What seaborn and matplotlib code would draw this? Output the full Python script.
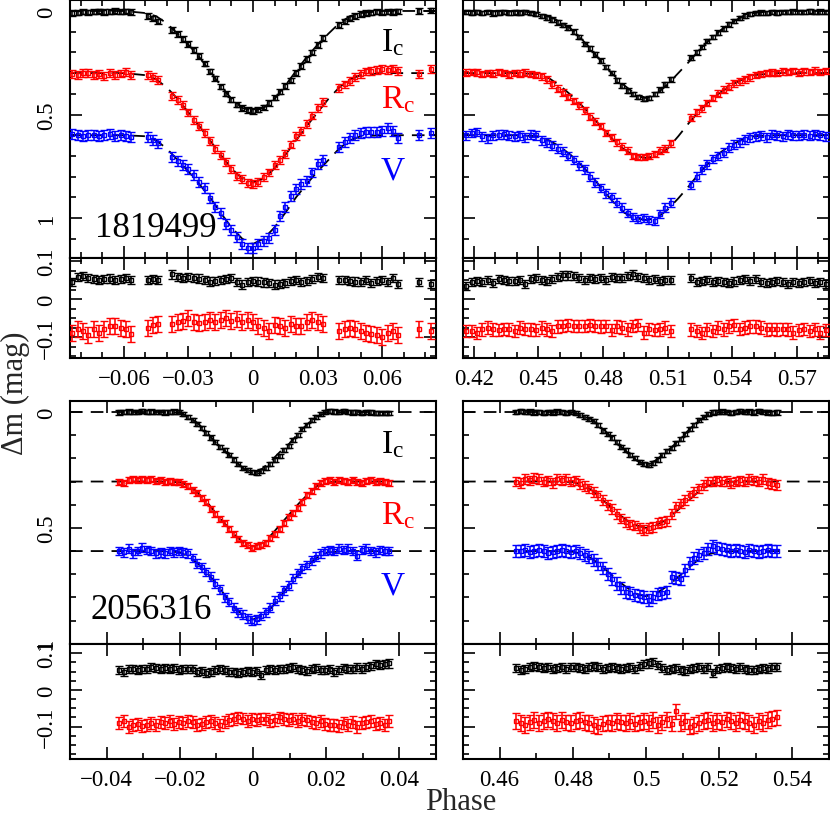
import numpy as np
import pandas as pd
import matplotlib
matplotlib.use("Agg")
import matplotlib.pyplot as plt
import seaborn as sns
from matplotlib.ticker import MultipleLocator, FixedLocator, FuncFormatter

sns.set_style("ticks")
plt.rcParams['font.family'] = ['Liberation Serif', 'DejaVu Serif']
plt.rcParams['mathtext.fontset'] = 'custom'
plt.rcParams['mathtext.rm'] = 'Liberation Serif'
plt.rcParams['mathtext.it'] = 'Liberation Serif:italic'
plt.rcParams['axes.unicode_minus'] = True

# ---------------- star 1819499, primary (top-left) ----------------
tl_phase = [-0.084, -0.0815, -0.079, -0.0765, -0.074, -0.0715, -0.069, -0.0665, -0.064, -0.0615, -0.059, -0.0565,
            -0.049, -0.0465, -0.044,
            -0.0375, -0.035, -0.0325, -0.030, -0.0275, -0.025, -0.0225, -0.020, -0.0175, -0.015, -0.0125, -0.010,
            -0.0075, -0.005, -0.0025, 0.000, 0.0025, 0.005, 0.0075, 0.010, 0.0125, 0.015, 0.0175, 0.020, 0.0225,
            0.025, 0.0275, 0.030, 0.0325,
            0.040, 0.0425, 0.045, 0.0475, 0.050, 0.0525, 0.055, 0.0575, 0.060, 0.0625, 0.065, 0.0675,
            0.077, 0.0825]
tl_I = [0.010, 0.008, 0.003, 0.006, 0.004, 0.002, 0.005, 0.003, 0.000, 0.004, 0.002, 0.005,
        0.025, 0.035, 0.050,
        0.092, 0.112, 0.135, 0.160, 0.188, 0.217, 0.255, 0.292, 0.325, 0.365, 0.400, 0.428, 0.452, 0.468, 0.478,
        0.483, 0.476, 0.465, 0.445, 0.418, 0.390, 0.362, 0.335, 0.300, 0.265, 0.232, 0.200, 0.165, 0.130,
        0.068, 0.050, 0.035, 0.025, 0.015, 0.010, 0.008, 0.004, 0.006, 0.003, 0.005, 0.002,
        0.000, -0.003]
tl_R = [0.305, 0.310, 0.300, 0.298, 0.310, 0.305, 0.312, 0.300, 0.308, 0.302, 0.296, 0.310,
        0.310, 0.320, 0.335,
        0.410, 0.430, 0.455, 0.490, 0.525, 0.555, 0.590, 0.630, 0.665, 0.695, 0.730, 0.765, 0.795, 0.810, 0.830,
        0.835, 0.825, 0.800, 0.780, 0.745, 0.720, 0.690, 0.645, 0.605, 0.580, 0.545, 0.505, 0.470, 0.440,
        0.370, 0.355, 0.340, 0.320, 0.305, 0.292, 0.288, 0.283, 0.280, 0.285, 0.278, 0.290,
        0.305, 0.280]
tl_V = [0.595, 0.600, 0.605, 0.600, 0.598, 0.603, 0.600, 0.596, 0.602, 0.598, 0.605, 0.610,
        0.610, 0.625, 0.640,
        0.705, 0.725, 0.745, 0.765, 0.790, 0.825, 0.855, 0.905, 0.945, 0.975, 1.030, 1.060, 1.090, 1.125, 1.145,
        1.145, 1.125, 1.110, 1.095, 1.060, 0.990, 0.945, 0.895, 0.860, 0.835, 0.820, 0.780, 0.740, 0.720,
        0.655, 0.635, 0.615, 0.600, 0.590, 0.585, 0.585, 0.585, 0.580, 0.565, 0.580, 0.615,
        0.600, 0.590]
tl_resI = [0.045, 0.058, 0.060, 0.055, 0.052, 0.050, 0.052, 0.054, 0.050, 0.052, 0.055, 0.050,
           0.050, 0.052, 0.050,
           0.065, 0.058, 0.056, 0.058, 0.055, 0.054, 0.050, 0.046, 0.048, 0.050, 0.052, 0.055, 0.045, 0.038, 0.045,
           0.048, 0.046, 0.044, 0.042, 0.038, 0.040, 0.043, 0.048, 0.050, 0.045, 0.048, 0.052, 0.058, 0.055,
           0.050, 0.050, 0.048, 0.046, 0.045, 0.050, 0.042, 0.048, 0.050, 0.045, 0.055, 0.040,
           0.045, 0.040]
tl_resR = [-0.090, -0.078, -0.085, -0.095, -0.080, -0.088, -0.078, -0.072, -0.070, -0.075, -0.080, -0.092,
           -0.075, -0.068, -0.065,
           -0.065, -0.060, -0.058, -0.050, -0.060, -0.062, -0.060, -0.056, -0.060, -0.055, -0.050, -0.058, -0.052,
           -0.060, -0.055, -0.060, -0.070, -0.075, -0.085, -0.068, -0.072, -0.075, -0.065, -0.070, -0.070, -0.060,
           -0.055, -0.060, -0.065,
           -0.085, -0.078, -0.075, -0.080, -0.085, -0.088, -0.092, -0.095, -0.100, -0.090, -0.085, -0.095,
           -0.080, -0.085]
tl_mphase = [-0.085, -0.06, -0.05, -0.045, -0.04, -0.035, -0.03, -0.025, -0.02, -0.015, -0.01, -0.005, 0.0,
             0.005, 0.01, 0.015, 0.02, 0.025, 0.03, 0.035, 0.04, 0.045, 0.05, 0.06, 0.085]
tl_mI = [0.0, 0.0, 0.01, 0.025, 0.06, 0.11, 0.163, 0.222, 0.29, 0.36, 0.425, 0.468, 0.483, 0.468, 0.425, 0.36,
         0.29, 0.222, 0.163, 0.11, 0.06, 0.025, 0.01, 0.0, 0.0]
tl_mR = [0.30, 0.30, 0.31, 0.33, 0.37, 0.425, 0.49, 0.555, 0.625, 0.695, 0.76, 0.81, 0.828, 0.81, 0.76, 0.695,
         0.625, 0.555, 0.49, 0.425, 0.37, 0.33, 0.31, 0.30, 0.30]
tl_mV = [0.60, 0.60, 0.605, 0.625, 0.665, 0.72, 0.775, 0.835, 0.90, 0.975, 1.045, 1.10, 1.125, 1.10, 1.045,
         0.975, 0.90, 0.835, 0.775, 0.72, 0.665, 0.625, 0.605, 0.60, 0.60]

# ---------------- star 1819499, secondary (top-right) ----------------
tr_phase = [0.4165, 0.419, 0.4215, 0.424, 0.4265, 0.429, 0.4315, 0.434, 0.4365, 0.439, 0.4415, 0.444, 0.4465,
            0.449, 0.4515, 0.454, 0.4565, 0.459, 0.4615, 0.464, 0.4665, 0.469, 0.4715, 0.474, 0.4765, 0.479,
            0.4815, 0.484, 0.4865, 0.489, 0.4915, 0.494, 0.4965, 0.499, 0.5015, 0.504, 0.5065, 0.509, 0.5115,
            0.521, 0.5235, 0.526, 0.5285, 0.531, 0.5335, 0.536, 0.5385, 0.541, 0.5435, 0.546, 0.5485, 0.551,
            0.5535, 0.556, 0.5585, 0.561, 0.5635, 0.566, 0.5685, 0.571, 0.5735, 0.576, 0.5785, 0.581, 0.5835]
tr_I = [0.005, 0.008, 0.004, 0.010, 0.006, 0.012, 0.008, 0.006, 0.010, 0.007, 0.008, 0.005, 0.010, 0.015,
        0.024, 0.032, 0.042, 0.055, 0.068, 0.080, 0.100, 0.125, 0.160, 0.180, 0.210, 0.240, 0.270, 0.300,
        0.335, 0.360, 0.385, 0.400, 0.415, 0.425, 0.420, 0.400, 0.380, 0.355, 0.330,
        0.225, 0.200, 0.175, 0.145, 0.125, 0.105, 0.085, 0.065, 0.048, 0.035, 0.022, 0.015, 0.010, 0.008,
        0.010, 0.005, 0.008, 0.004, 0.006, 0.003, 0.005, 0.004, 0.002, 0.005, 0.003, 0.004]
tr_R = [0.298, 0.295, 0.297, 0.305, 0.300, 0.302, 0.295, 0.300, 0.308, 0.300, 0.302, 0.298, 0.305, 0.310,
        0.315, 0.330, 0.355, 0.375, 0.395, 0.415, 0.435, 0.455, 0.480, 0.510, 0.535, 0.555, 0.590, 0.610,
        0.635, 0.655, 0.675, 0.700, 0.705, 0.705, 0.700, 0.690, 0.675, 0.665, 0.640,
        0.515, 0.490, 0.470, 0.445, 0.420, 0.400, 0.380, 0.365, 0.350, 0.340, 0.330, 0.320, 0.310, 0.305,
        0.300, 0.298, 0.300, 0.292, 0.295, 0.290, 0.298, 0.292, 0.295, 0.288, 0.295, 0.290]
tr_V = [0.600, 0.590, 0.585, 0.605, 0.615, 0.600, 0.598, 0.595, 0.602, 0.605, 0.600, 0.610, 0.598, 0.600,
        0.625, 0.635, 0.650, 0.665, 0.680, 0.700, 0.720, 0.745, 0.765, 0.800, 0.830, 0.855, 0.880, 0.900,
        0.925, 0.950, 0.975, 0.995, 1.005, 1.000, 1.010, 1.015, 0.980, 0.950, 0.925,
        0.840, 0.800, 0.765, 0.740, 0.715, 0.700, 0.685, 0.660, 0.645, 0.635, 0.620, 0.610, 0.605, 0.600,
        0.610, 0.598, 0.600, 0.605, 0.595, 0.600, 0.600, 0.598, 0.602, 0.595, 0.600, 0.605]
tr_resI = [0.035, 0.045, 0.048, 0.045, 0.050, 0.042, 0.052, 0.050, 0.048, 0.048, 0.050, 0.040, 0.052, 0.055,
           0.050, 0.048, 0.052, 0.058, 0.062, 0.062, 0.060, 0.055, 0.050, 0.055, 0.052, 0.055, 0.050, 0.058,
           0.055, 0.055, 0.060, 0.065, 0.058, 0.055, 0.050, 0.052, 0.048, 0.050, 0.050,
           0.055, 0.045, 0.048, 0.050, 0.045, 0.048, 0.045, 0.042, 0.046, 0.050, 0.052, 0.048, 0.052, 0.045,
           0.042, 0.045, 0.048, 0.045, 0.040, 0.045, 0.042, 0.045, 0.048, 0.042, 0.045, 0.040]
tr_resR = [-0.085, -0.085, -0.090, -0.080, -0.075, -0.080, -0.082, -0.078, -0.080, -0.085, -0.075, -0.078,
           -0.080, -0.082, -0.075, -0.080, -0.085, -0.072, -0.070, -0.068, -0.070, -0.070, -0.070, -0.068,
           -0.070, -0.072, -0.070, -0.082, -0.072, -0.075, -0.080, -0.070, -0.068, -0.088, -0.078, -0.082,
           -0.080, -0.075, -0.085,
           -0.080, -0.085, -0.090, -0.080, -0.085, -0.075, -0.080, -0.072, -0.068, -0.078, -0.075, -0.072,
           -0.072, -0.075, -0.080, -0.078, -0.080, -0.078, -0.080, -0.088, -0.082, -0.078, -0.085, -0.080,
           -0.088, -0.082]
tr_mphase = [0.415, 0.44, 0.45, 0.455, 0.46, 0.465, 0.47, 0.475, 0.48, 0.485, 0.49, 0.495, 0.5, 0.505, 0.51,
             0.515, 0.52, 0.525, 0.53, 0.535, 0.54, 0.545, 0.55, 0.56, 0.585]
tr_mI = [0.0, 0.0, 0.01, 0.025, 0.05, 0.085, 0.135, 0.19, 0.255, 0.31, 0.36, 0.40, 0.42, 0.40, 0.355, 0.30,
         0.245, 0.185, 0.135, 0.09, 0.055, 0.025, 0.01, 0.0, 0.0]
tr_mR = [0.30, 0.30, 0.305, 0.325, 0.36, 0.405, 0.455, 0.51, 0.57, 0.625, 0.67, 0.70, 0.71, 0.70, 0.665, 0.605,
         0.54, 0.48, 0.43, 0.39, 0.355, 0.33, 0.31, 0.30, 0.30]
tr_mV = [0.60, 0.60, 0.605, 0.625, 0.655, 0.695, 0.745, 0.80, 0.865, 0.925, 0.975, 1.0, 1.01, 1.0, 0.96, 0.905,
         0.845, 0.78, 0.725, 0.68, 0.645, 0.62, 0.605, 0.60, 0.60]

# ---------------- star 2056316, primary (bottom-left) ----------------
bl_phase = [-0.0365, -0.03525, -0.034, -0.03275, -0.0315, -0.03025, -0.029, -0.02775, -0.0265, -0.02525,
            -0.024, -0.02275, -0.0215, -0.02025, -0.019, -0.01775, -0.0165, -0.01525, -0.014, -0.01275,
            -0.0115, -0.01025, -0.009, -0.00775, -0.0065, -0.00525, -0.004, -0.00275, -0.0015, -0.00025,
            0.001, 0.00225, 0.0035, 0.00475, 0.006, 0.00725, 0.0085, 0.00975, 0.011, 0.01225,
            0.0135, 0.01475, 0.016, 0.01725, 0.0185, 0.01975, 0.021, 0.02225, 0.0235, 0.02475,
            0.026, 0.02725, 0.0285, 0.02975, 0.031, 0.03225, 0.0335, 0.03475, 0.036, 0.03725]
bl_I = [0.002, 0.000, -0.002, 0.001, 0.000, -0.003, 0.000, -0.002, 0.001, 0.000,
        0.002, 0.000, -0.002, 0.000, 0.008, 0.020, 0.035, 0.050, 0.070, 0.090,
        0.110, 0.130, 0.150, 0.165, 0.185, 0.205, 0.225, 0.240, 0.250, 0.260,
        0.262, 0.255, 0.240, 0.225, 0.205, 0.190, 0.165, 0.145, 0.120, 0.100,
        0.075, 0.055, 0.035, 0.020, 0.008, 0.000, -0.003, -0.002, 0.000, -0.003,
        0.000, 0.002, 0.000, 0.003, 0.000, 0.002, 0.004, 0.003, 0.005, 0.006]
bl_R = [0.300, 0.305, 0.295, 0.290, 0.295, 0.288, 0.295, 0.290, 0.298, 0.295,
        0.300, 0.298, 0.300, 0.302, 0.310, 0.320, 0.335, 0.350, 0.370, 0.390,
        0.420, 0.440, 0.460, 0.480, 0.505, 0.525, 0.550, 0.565, 0.575, 0.585,
        0.580, 0.575, 0.565, 0.545, 0.525, 0.505, 0.480, 0.455, 0.435, 0.415,
        0.390, 0.360, 0.340, 0.320, 0.305, 0.298, 0.295, 0.300, 0.295, 0.298,
        0.300, 0.295, 0.300, 0.305, 0.298, 0.295, 0.300, 0.298, 0.300, 0.305]
bl_V = [0.600, 0.605, 0.590, 0.610, 0.600, 0.585, 0.595, 0.600, 0.610, 0.605,
        0.610, 0.600, 0.605, 0.600, 0.605, 0.610, 0.630, 0.655, 0.670, 0.690,
        0.710, 0.740, 0.765, 0.800, 0.820, 0.845, 0.865, 0.875, 0.890, 0.900,
        0.895, 0.880, 0.865, 0.845, 0.815, 0.795, 0.770, 0.750, 0.720, 0.695,
        0.675, 0.660, 0.640, 0.625, 0.610, 0.600, 0.595, 0.600, 0.590, 0.595,
        0.590, 0.600, 0.620, 0.595, 0.590, 0.600, 0.605, 0.595, 0.600, 0.600]
bl_resI = [0.055, 0.050, 0.058, 0.056, 0.053, 0.056, 0.058, 0.062, 0.060, 0.058,
           0.060, 0.057, 0.060, 0.055, 0.058, 0.056, 0.057, 0.050, 0.052, 0.045,
           0.048, 0.055, 0.056, 0.054, 0.050, 0.050, 0.045, 0.048, 0.052, 0.050,
           0.052, 0.040, 0.055, 0.058, 0.055, 0.057, 0.058, 0.060, 0.062, 0.058,
           0.055, 0.052, 0.058, 0.060, 0.055, 0.054, 0.056, 0.048, 0.055, 0.060,
           0.056, 0.058, 0.062, 0.058, 0.063, 0.065, 0.070, 0.068, 0.070, 0.072]
bl_resR = [-0.090, -0.085, -0.100, -0.095, -0.092, -0.098, -0.095, -0.090, -0.095, -0.088,
           -0.090, -0.085, -0.092, -0.088, -0.090, -0.085, -0.088, -0.095, -0.092, -0.088,
           -0.085, -0.090, -0.095, -0.088, -0.082, -0.080, -0.075, -0.078, -0.085, -0.080,
           -0.082, -0.078, -0.080, -0.085, -0.082, -0.075, -0.080, -0.082, -0.078, -0.085,
           -0.080, -0.083, -0.088, -0.090, -0.085, -0.092, -0.095, -0.095, -0.098, -0.090,
           -0.095, -0.088, -0.100, -0.090, -0.088, -0.085, -0.092, -0.090, -0.095, -0.085]
bl_mphase = [-0.05, -0.025, -0.02, -0.0175, -0.015, -0.0125, -0.01, -0.0075, -0.005, -0.0025, 0.0, 0.0025,
             0.005, 0.0075, 0.01, 0.0125, 0.015, 0.0175, 0.02, 0.025, 0.05]
bl_mI = [0.0, 0.0, 0.003, 0.02, 0.05, 0.09, 0.135, 0.17, 0.21, 0.245, 0.26, 0.245, 0.21, 0.17, 0.135, 0.09,
         0.05, 0.02, 0.003, 0.0, 0.0]
bl_mR = [0.30, 0.30, 0.303, 0.318, 0.35, 0.39, 0.44, 0.485, 0.53, 0.565, 0.58, 0.565, 0.53, 0.485, 0.44, 0.395,
         0.355, 0.32, 0.303, 0.30, 0.30]
bl_mV = [0.60, 0.60, 0.605, 0.625, 0.655, 0.695, 0.74, 0.795, 0.845, 0.88, 0.895, 0.88, 0.845, 0.795, 0.745,
         0.70, 0.66, 0.628, 0.607, 0.60, 0.60]

# ---------------- star 2056316, secondary (bottom-right) ----------------
br_phase = [0.4645, 0.46575, 0.467, 0.46825, 0.4695, 0.47075, 0.472, 0.47325, 0.4745, 0.47575,
            0.477, 0.47825, 0.4795, 0.48075, 0.482, 0.48325, 0.4845, 0.48575, 0.487, 0.48825,
            0.4895, 0.49075, 0.492, 0.49325, 0.4945, 0.49575, 0.497, 0.49825, 0.4995, 0.50075,
            0.502, 0.50325, 0.5045, 0.50575, 0.507, 0.50825, 0.5095, 0.51075, 0.512, 0.51325,
            0.5145, 0.51575, 0.517, 0.51825, 0.5195, 0.52075, 0.522, 0.52325, 0.5245, 0.52575,
            0.527, 0.52825, 0.5295, 0.53075, 0.532, 0.53325, 0.5345, 0.53575]
br_I = [0.000, -0.003, 0.000, -0.002, 0.002, 0.000, 0.003, 0.000, 0.002, -0.002,
        0.000, 0.003, 0.000, 0.005, 0.012, 0.020, 0.030, 0.040, 0.055, 0.080,
        0.095, 0.110, 0.130, 0.150, 0.165, 0.185, 0.200, 0.215, 0.225, 0.230,
        0.220, 0.205, 0.185, 0.170, 0.155, 0.135, 0.115, 0.095, 0.075, 0.055,
        0.035, 0.020, 0.008, 0.002, 0.000, -0.002, 0.000, 0.003, 0.000, -0.003,
        0.000, -0.002, 0.002, -0.003, 0.000, 0.002, 0.003, 0.002]
br_R = [0.300, 0.305, 0.290, 0.295, 0.285, 0.290, 0.300, 0.295, 0.305, 0.290,
        0.295, 0.290, 0.300, 0.295, 0.310, 0.320, 0.330, 0.345, 0.360, 0.380,
        0.400, 0.420, 0.440, 0.460, 0.475, 0.485, 0.490, 0.500, 0.510, 0.500,
        0.495, 0.480, 0.475, 0.470, 0.440, 0.410, 0.395, 0.380, 0.360, 0.345,
        0.330, 0.315, 0.300, 0.300, 0.295, 0.300, 0.298, 0.305, 0.300, 0.295,
        0.300, 0.290, 0.295, 0.300, 0.290, 0.305, 0.310, 0.315]
br_V = [0.600, 0.600, 0.595, 0.605, 0.600, 0.595, 0.600, 0.610, 0.605, 0.600,
        0.595, 0.600, 0.605, 0.600, 0.610, 0.615, 0.625, 0.640, 0.655, 0.675,
        0.700, 0.720, 0.740, 0.760, 0.775, 0.780, 0.790, 0.795, 0.800, 0.810,
        0.800, 0.785, 0.780, 0.775, 0.710, 0.715, 0.720, 0.680, 0.650, 0.630,
        0.615, 0.610, 0.590, 0.580, 0.585, 0.590, 0.595, 0.600, 0.595, 0.600,
        0.605, 0.595, 0.600, 0.605, 0.600, 0.595, 0.600, 0.600]
br_resI = [0.060, 0.055, 0.058, 0.062, 0.065, 0.063, 0.060, 0.062, 0.058, 0.060,
           0.062, 0.058, 0.063, 0.062, 0.060, 0.058, 0.062, 0.065, 0.063, 0.058,
           0.060, 0.062, 0.060, 0.058, 0.060, 0.062, 0.058, 0.065, 0.070, 0.072,
           0.075, 0.068, 0.060, 0.055, 0.058, 0.060, 0.055, 0.052, 0.058, 0.060,
           0.062, 0.058, 0.062, 0.045, 0.058, 0.060, 0.062, 0.060, 0.058, 0.062,
           0.058, 0.055, 0.055, 0.058, 0.060, 0.058, 0.062, 0.062]
br_resR = [-0.085, -0.090, -0.095, -0.088, -0.082, -0.090, -0.085, -0.080, -0.085, -0.090,
           -0.082, -0.088, -0.090, -0.085, -0.082, -0.088, -0.090, -0.095, -0.100, -0.092,
           -0.088, -0.090, -0.085, -0.088, -0.090, -0.085, -0.092, -0.088, -0.085, -0.090,
           -0.082, -0.095, -0.088, -0.080, -0.092, -0.058, -0.090, -0.085, -0.100, -0.095,
           -0.090, -0.085, -0.082, -0.090, -0.085, -0.088, -0.080, -0.085, -0.090, -0.082,
           -0.085, -0.090, -0.095, -0.085, -0.090, -0.082, -0.078, -0.075]
br_mphase = [0.45, 0.475, 0.48, 0.4825, 0.485, 0.4875, 0.49, 0.4925, 0.495, 0.4975, 0.5, 0.5025, 0.505,
             0.5075, 0.51, 0.5125, 0.515, 0.5175, 0.52, 0.525, 0.55]
br_mI = [0.0, 0.0, 0.003, 0.012, 0.03, 0.06, 0.10, 0.14, 0.175, 0.21, 0.228, 0.21, 0.18, 0.145, 0.105, 0.065,
         0.032, 0.01, 0.002, 0.0, 0.0]
br_mR = [0.30, 0.30, 0.302, 0.315, 0.335, 0.37, 0.405, 0.44, 0.47, 0.49, 0.50, 0.49, 0.47, 0.44, 0.405, 0.37,
         0.335, 0.315, 0.302, 0.30, 0.30]
br_mV = [0.60, 0.60, 0.603, 0.612, 0.63, 0.66, 0.695, 0.73, 0.76, 0.785, 0.795, 0.785, 0.76, 0.73, 0.695, 0.66,
         0.63, 0.612, 0.603, 0.60, 0.60]

# typical photometric errors (mag) for each series: I, R, V, resid I, resid R
tl_err = [0.013, 0.019, 0.024, 0.011, 0.021]
tr_err = [0.011, 0.016, 0.021, 0.011, 0.016]
bl_err = [0.009, 0.013, 0.019, 0.011, 0.016]
br_err = [0.009, 0.021, 0.026, 0.011, 0.021]

band_labels = [r"I$_\mathrm{c}$", r"R$_\mathrm{c}$", "V"]
band_colors = ["black", "#ff0000", "#0000ff"]
star_ids = ["1819499", "2056316"]

# ---------------- figure & layout ----------------
W_PX, H_PX = 830, 820
fig = plt.figure(figsize=(W_PX / 100, H_PX / 100), dpi=100)


def fx(px):
    return px / W_PX


def fy(py):
    return 1 - py / H_PX


col_x = [70, 463]
col_w = 366
rows = [  # (main top, main bottom, resid bottom)
    (1, 259, 359),
    (402, 645, 760),
]


def fmt(v, pos=None):
    v = round(v, 4)
    if abs(v) < 1e-9:
        return "0"
    return f"{v:g}".replace("-", "\u2212")


def style(ax, xmaj, xmin, ymaj, ymin, labelleft, labelbottom):
    ax.xaxis.set_major_locator(MultipleLocator(xmaj))
    ax.xaxis.set_minor_locator(MultipleLocator(xmin))
    ax.yaxis.set_major_locator(FixedLocator(ymaj))
    ax.yaxis.set_minor_locator(MultipleLocator(ymin))
    ax.xaxis.set_major_formatter(FuncFormatter(fmt))
    ax.yaxis.set_major_formatter(FuncFormatter(fmt))
    ax.tick_params(which="both", direction="in", top=True, right=True, bottom=True, left=True,
                   width=1.2, color="black", labelsize=16.5, labelcolor="black")
    ax.tick_params(which="major", length=8.5)
    ax.tick_params(which="minor", length=4.5)
    ax.tick_params(axis="y", pad=9.5, labelleft=labelleft)
    ax.tick_params(axis="x", pad=7, labelbottom=labelbottom)
    for sp in ax.spines.values():
        sp.set_linewidth(1.5)
        sp.set_color("black")
        sp.set_visible(True)
    ax.set_facecolor("white")
    ax.set_xlabel("")
    ax.set_ylabel("")


def model_line(ax, ph, mag):
    df = pd.DataFrame({"phase": ph, "mag": mag})
    sns.lineplot(data=df, x="phase", y="mag", ax=ax, color="black", linewidth=1.3,
                 estimator=None, sort=False, zorder=1)
    ax.lines[-1].set_dashes([7, 4.5])


def points(ax, ph, mag, err, color):
    ax.errorbar(ph, mag, yerr=err, fmt="s", ms=3.3, mfc="none", mec=color, mew=1.0,
                ecolor=color, elinewidth=1.15, capsize=2.6, capthick=1.15, zorder=3)


panels = [
    # (row, col, phase, I, R, V, resI, resR, mphase, mI, mR, mV, err, xlim, xmaj, main ylim, resid ylim)
    (0, 0, tl_phase, tl_I, tl_R, tl_V, tl_resI, tl_resR, tl_mphase, tl_mI, tl_mR, tl_mV, tl_err,
     (-0.085, 0.085), 0.03, (1.193, -0.053), (-0.155, 0.108)),
    (0, 1, tr_phase, tr_I, tr_R, tr_V, tr_resI, tr_resR, tr_mphase, tr_mI, tr_mR, tr_mV, tr_err,
     (0.415, 0.585), 0.03, (1.193, -0.053), (-0.155, 0.108)),
    (1, 0, bl_phase, bl_I, bl_R, bl_V, bl_resI, bl_resR, bl_mphase, bl_mI, bl_mR, bl_mV, bl_err,
     (-0.05, 0.05), 0.02, (1.001, -0.0475), (-0.188, 0.125)),
    (1, 1, br_phase, br_I, br_R, br_V, br_resI, br_resR, br_mphase, br_mI, br_mR, br_mV, br_err,
     (0.45, 0.55), 0.02, (1.001, -0.0475), (-0.188, 0.125)),
]

for (r, c, ph, I, R, V, rI, rR, mph, mI, mR, mV, err, xlim, xmaj, ylim, rylim) in panels:
    mt, mb, rb = rows[r]
    x0 = fx(col_x[c])
    w = col_w / W_PX
    ax = fig.add_axes([x0, fy(mb), w, (mb - mt) / H_PX])
    axr = fig.add_axes([x0, fy(rb), w, (rb - mb) / H_PX])

    for mm in (mI, mR, mV):
        model_line(ax, mph, mm)
    for mag, e, col in zip((I, R, V), err[:3], band_colors):
        points(ax, ph, mag, e, col)
    points(axr, ph, rI, err[3], band_colors[0])
    points(axr, ph, rR, err[4], band_colors[1])

    ax.set_xlim(*xlim)
    ax.set_ylim(*ylim)
    axr.set_xlim(*xlim)
    axr.set_ylim(*rylim)
    style(ax, xmaj, 0.01, [0.0, 0.5, 1.0], 0.1, labelleft=(c == 0), labelbottom=False)
    style(axr, xmaj, 0.01, [-0.1, 0.0, 0.1], 0.025, labelleft=(c == 0), labelbottom=True)

    for a in (ax, axr):
        for lab in a.get_yticklabels():
            lab.set_rotation(90)
            lab.set_va("center")
            lab.set_ha("right")

    if c == 0:
        if r == 0:
            ypos = [0.837, 0.616, 0.341]
            ax.text(0.068, 0.12, star_ids[0], transform=ax.transAxes, fontsize=25,
                    ha="left", va="center", color="black")
        else:
            ypos = [0.823, 0.531, 0.243]
            ax.text(0.055, 0.144, star_ids[1], transform=ax.transAxes, fontsize=25,
                    ha="left", va="center", color="black")
        for lbl, col, yy in zip(band_labels, band_colors, ypos):
            ax.text(0.85, yy, lbl, transform=ax.transAxes, fontsize=24, ha="left",
                    va="center", color=col)

fig.text(fx(15), fy(393), "\u0394m (mag)", rotation=90, fontsize=22, ha="center", va="center")
fig.text(fx(461), fy(817), "Phase", fontsize=22, ha="center", va="bottom")

fig.savefig("out.png", dpi=100, facecolor="white")
